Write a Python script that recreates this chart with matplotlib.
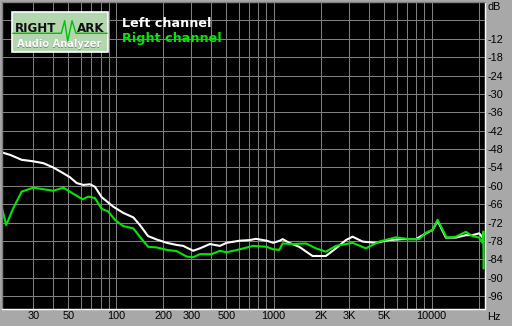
import numpy as np
import matplotlib
matplotlib.use("Agg")
import matplotlib.pyplot as plt
from matplotlib.lines import Line2D
from matplotlib.patches import Rectangle
from matplotlib.ticker import NullFormatter

W, H = 512, 326

# Left channel (white)
left_freq = [19, 21.4, 25.3, 30, 34.7, 40.1, 46.5, 51.2, 56.5, 62.2, 68.6, 73.7, 81.3,
             96.3, 111, 129, 142, 160, 181, 210, 243, 267, 309, 341, 394, 456, 503,
             611, 707, 771, 902, 993, 1095, 1139, 1254, 1450, 1763, 2141, 2478, 2867,
             3160, 3658, 4440, 5390, 6555, 7957, 9204, 10150, 10917, 12323, 14256,
             16490, 18180, 20030, 21050]
left_db = [-49.1, -49.9, -51.5, -52.0, -52.6, -54.0, -55.9, -57.2, -59.1, -59.7, -59.5,
           -60.3, -63.7, -66.8, -68.8, -70.3, -72.8, -76.4, -77.5, -78.6, -79.3, -79.6,
           -81.2, -80.4, -79.0, -79.6, -78.6, -77.9, -77.7, -77.3, -77.9, -78.6, -77.9,
           -77.4, -78.6, -79.9, -82.9, -82.9, -80.4, -77.7, -76.6, -78.2, -78.6, -77.7,
           -77.4, -77.4, -75.5, -74.4, -71.4, -76.9, -76.9, -76.1, -76.1, -75.5, -76.9]

# Right channel (green)
right_freq = [19, 20.2, 22.4, 25.3, 30, 34.7, 40.1, 46.5, 53.8, 61.7, 66.9, 73.7, 81.3,
              89.5, 98.7, 111, 129, 142, 160, 181, 210, 243, 281, 309, 341, 404, 456,
              503, 611, 742, 902, 993, 1084, 1139, 1317, 1600, 1851, 2141, 2478, 3160,
              3838, 4659, 5943, 7214, 8347, 9204, 10150, 10917, 12449, 14256, 16490,
              18180, 20030, 21050, 21300, 21350]
right_db = [-67.3, -72.8, -67.3, -61.9, -60.6, -61.1, -61.6, -60.6, -62.6, -64.4, -63.5,
            -64.0, -67.5, -68.4, -71.1, -73.1, -73.9, -76.6, -79.9, -80.1, -80.9, -81.3,
            -83.1, -83.3, -82.3, -82.3, -81.2, -81.7, -80.7, -79.6, -79.9, -80.7, -80.9,
            -78.8, -79.0, -78.8, -80.4, -81.5, -79.6, -78.6, -80.4, -78.2, -76.8, -77.4,
            -77.4, -75.3, -74.4, -71.1, -76.9, -76.6, -75.0, -76.4, -76.9, -78.6, -74.9,
            -86.9]

x_major = [30, 50, 100, 200, 300, 500, 1000, 2000, 3000, 5000, 10000]
x_labels = ["30", "50", "100", "200", "300", "500", "1000", "2K", "3K", "5K", "10000"]
x_minor = [40, 60, 70, 80, 90, 400, 600, 700, 800, 900,
           4000, 6000, 7000, 8000, 9000, 20000]
y_ticks = list(range(-96, 0, 6))
y_labels = ["" if v == -6 else str(v) for v in y_ticks]


def px(x, y):
    return x / W, 1 - y / H


fig = plt.figure(figsize=(W / 100, H / 100), dpi=100, facecolor="#a8a8a8")
ax = fig.add_axes([2 / W, 17 / H, 483 / W, 307 / H])
ax.set_facecolor("black")
ax.set_xscale("log")
ax.set_xlim(19, 21800)
ax.set_ylim(-100.2, 0)

ax.set_xticks(x_major, x_labels)
ax.set_xticks(x_minor, minor=True)
ax.xaxis.set_minor_formatter(NullFormatter())
ax.set_yticks(y_ticks, y_labels)
ax.yaxis.tick_right()
ax.tick_params(which="both", length=0, labelsize=7.8, colors="black")
ax.tick_params(axis="x", pad=1.5)
ax.tick_params(axis="y", pad=1.5)
for lab in ax.get_xticklabels() + ax.get_yticklabels():
    lab.set_family("Liberation Sans")
ax.grid(which="both", color="#808080", lw=0.72)

for s in ("top", "left"):
    ax.spines[s].set_color("#808080")
for s in ("bottom", "right"):
    ax.spines[s].set_color("white")
for s in ax.spines.values():
    s.set_linewidth(1.0)

ax.plot(left_freq, left_db, color="white", lw=1.5, solid_joinstyle="round")
ax.plot(right_freq, right_db, color="#00e600", lw=1.5, solid_joinstyle="round")

fig.text(*px(487, 7), "dB", fontsize=7.8, family="Liberation Sans", va="center")
fig.text(*px(487, 317.5), "Hz", fontsize=7.8, family="Liberation Sans", va="center")

# legend
fig.text(*px(122, 27), "Left channel", color="white", fontsize=9.2,
         fontweight="bold", va="baseline")
fig.text(*px(122, 42), "Right channel", color="#00e600", fontsize=9.2,
         fontweight="bold", va="baseline")

# logo
bx, by = px(12, 51.5)
fig.add_artist(Rectangle((bx, by), 96 / W, 39.5 / H, transform=fig.transFigure,
                         facecolor="#b2d6ae", edgecolor="white", lw=1.2))
wave_x = [13, 61.3, 64.7, 67.7, 72, 76, 107]
wave_y = [33.3, 33.3, 20.7, 41.3, 20.7, 33.3, 33.3]
fig.add_artist(Line2D([v / W for v in wave_x], [1 - v / H for v in wave_y],
                      transform=fig.transFigure, color="#00c000", lw=1.0))
fig.text(*px(15, 31.5), "RIGHT", color="#101010", fontsize=8.6,
         fontweight="bold", va="baseline")
fig.text(*px(76.5, 31.5), "ARK", color="#101010", fontsize=8.6,
         fontweight="bold", va="baseline")
fig.text(*px(17.4, 47.6), "Audio Analyzer", color="#7d8a7d", fontsize=7.1,
         fontweight="bold", va="baseline")
fig.text(*px(16.8, 47.0), "Audio Analyzer", color="white", fontsize=7.1,
         fontweight="bold", va="baseline")

fig.savefig("out.png", dpi=100, facecolor=fig.get_facecolor())
